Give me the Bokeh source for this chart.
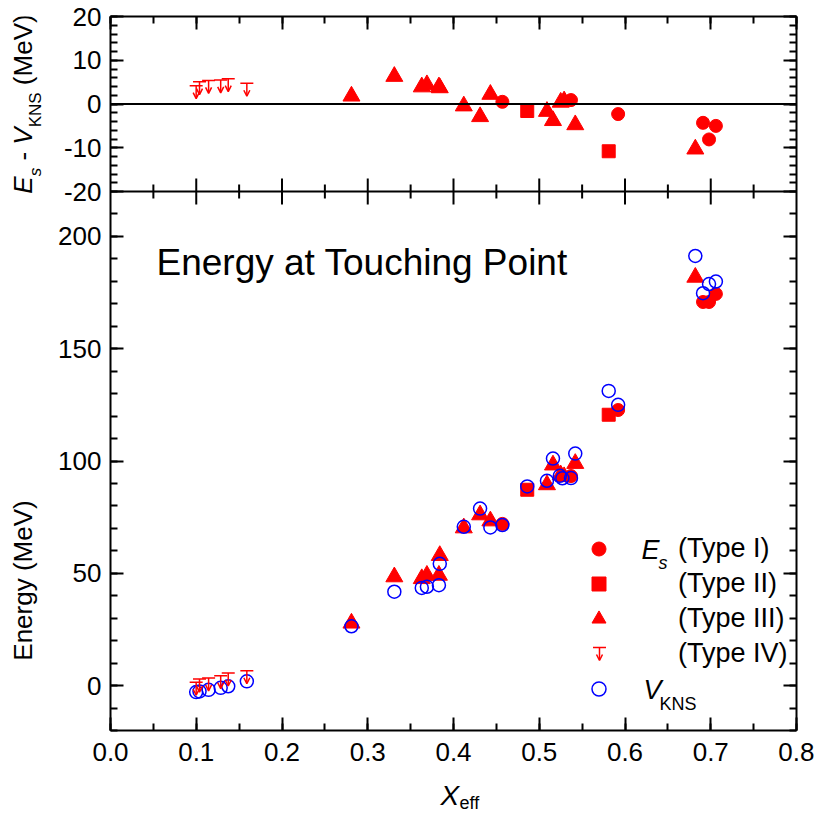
from math import pi
import numpy as np
from bokeh.plotting import figure
from bokeh.models import (ColumnDataSource, Range1d, LinearAxis, FixedTicker, Span, Label,
                          Arrow, TeeHead, OpenHead, Legend, LegendItem, CustomJSTickFormatter)
from bokeh.layouts import column, row
from bokeh.embed import file_html
from bokeh.resources import INLINE

FONT = "Liberation Sans"

# ---------------- data ----------------
# Type I (circles)
t1_x = [0.457, 0.537, 0.592, 0.691, 0.698, 0.706]
t1_es = [72.0, 93.3, 122.7, 170.8, 170.8, 174.4]
t1_diff = [0.5, 0.9, -2.3, -4.3, -8.1, -5.0]
# Type II (squares)
t2_x = [0.486, 0.581]
t2_es = [87.2, 120.6]
t2_diff = [-1.6, -10.8]
# Type III (triangles)
t3_x = [0.281, 0.331, 0.363, 0.369, 0.383, 0.384, 0.412, 0.431, 0.443, 0.509,
        0.516, 0.525, 0.529, 0.542, 0.682]
t3_es = [27.8, 48.4, 47.6, 49.1, 49.1, 57.9, 70.2, 76.0, 73.3, 89.4,
         98.2, 93.8, 93.0, 98.9, 181.8]
t3_diff = [1.8, 6.3, 3.9, 4.4, 3.9, 3.7, -0.45, -2.9, 2.2, -1.7,
           -3.8, 0.4, 0.7, -4.75, -10.3]
# Type IV (upper limits)
t4_x = [0.0999, 0.1038, 0.1144, 0.1285, 0.1373, 0.159]
t4_es = [1.5, 2.9, 3.4, 4.4, 5.6, 6.6]
t4_diff = [4.2, 5.1, 5.4, 5.5, 5.8, 4.75]
# V_KNS (open circles)
v_x = [0.0999, 0.1038, 0.1144, 0.1285, 0.1373, 0.159,
       0.281, 0.331, 0.363, 0.369, 0.383, 0.384, 0.412, 0.431, 0.443, 0.509,
       0.516, 0.524, 0.527, 0.542, 0.682,
       0.486, 0.581,
       0.457, 0.537, 0.592, 0.691, 0.698, 0.706]
v_kns = [-2.9, -2.6, -1.9, -1.0, -0.3, 1.9,
         26.4, 41.8, 43.5, 44.0, 44.7, 54.2, 70.7, 78.8, 70.4, 91.2,
         101.1, 93.4, 92.3, 103.3, 191.3,
         88.7, 131.2,
         71.5, 92.4, 125.0, 174.7, 178.8, 179.9]

x_ticks = [0.0, 0.1, 0.2, 0.3, 0.4, 0.5, 0.6, 0.7, 0.8]
x_tick_labels = ["0.0", "0.1", "0.2", "0.3", "0.4", "0.5", "0.6", "0.7", "0.8"]
top_y_ticks = [-20, -10, 0, 10, 20]
top_y_tick_labels = ["-20", "-10", "0", "10", "20"]
bot_y_ticks = [0, 50, 100, 150, 200]
bot_y_tick_labels = ["0", "50", "100", "150", "200"]

# ---------------- layout constants ----------------
TOTAL_W, TOTAL_H = 813, 813
YLAB_W = 55
FRAME_L = 109            # frame left on the canvas
FW = 686
TOP_PX, BOT_PX = 175, 539
FRAME_TOP = 16
FRAME_BOTTOM = FRAME_TOP + TOP_PX + BOT_PX
MB_BOTTOM = 46
MAIN_H = FRAME_BOTTOM + MB_BOTTOM
MAIN_W = TOTAL_W - YLAB_W
XLAB_H = TOTAL_H - MAIN_H
TICK_FS = "26px"

BOT_LO, BOT_HI = -20, 220
TOP_LO, TOP_HI = -20, 20
main_end = BOT_LO + (BOT_HI - BOT_LO) * (TOP_PX + BOT_PX) / BOT_PX
top_start = TOP_HI - (TOP_HI - TOP_LO) * (TOP_PX + BOT_PX) / TOP_PX


def top_to_main(d):
    return BOT_HI + (d - TOP_LO) * ((BOT_HI - BOT_LO) / BOT_PX) / ((TOP_HI - TOP_LO) / TOP_PX)


x_minor = [round(v, 3) for v in np.arange(0, 0.8001, 0.05)]
left_ticks = bot_y_ticks + [top_to_main(d) for d in top_y_ticks]
left_labels = bot_y_tick_labels + top_y_tick_labels
left_minor = list(range(-20, 221, 10)) + [top_to_main(d) for d in range(-18, 21, 2)]

p = figure(x_range=Range1d(0, 0.8), y_range=Range1d(BOT_LO, main_end),
           frame_width=FW, frame_height=TOP_PX + BOT_PX,
           min_border_left=FRAME_L - YLAB_W, min_border_right=MAIN_W - (FRAME_L - YLAB_W) - FW,
           min_border_top=FRAME_TOP, min_border_bottom=MB_BOTTOM,
           output_backend="svg", toolbar_location=None)
p.extra_y_ranges = {"top": Range1d(top_start, TOP_HI)}
p.grid.visible = False
p.outline_line_color = None


def style_axis(ax, ticks, minor, show_labels=False, standoff=9):
    ax.ticker = FixedTicker(ticks=ticks, minor_ticks=minor)
    ax.axis_line_width = 2
    ax.axis_line_color = "black"
    ax.major_tick_line_width = 2
    ax.minor_tick_line_width = 2
    ax.major_tick_line_color = "black"
    ax.minor_tick_line_color = "black"
    ax.major_tick_in = 13
    ax.major_tick_out = 0
    ax.minor_tick_in = 7
    ax.minor_tick_out = 0
    ax.axis_label = None
    if show_labels:
        ax.major_label_text_font = FONT
        ax.major_label_text_font_size = TICK_FS
        ax.major_label_text_color = "black"
        ax.major_label_standoff = standoff
    else:
        ax.major_label_text_font_size = "0px"
        ax.major_label_text_color = None
        ax.major_label_standoff = 0


ly = p.yaxis[0]
style_axis(ly, left_ticks, left_minor, True, 9)
ly.formatter = CustomJSTickFormatter(args=dict(tv=left_ticks, tl=left_labels), code="""
for (let i = 0; i < tv.length; i++) { if (Math.abs(tv[i] - tick) < 1e-6) return tl[i]; }
return "";
""")
bx = p.xaxis[0]
style_axis(bx, x_ticks, x_minor, True, 12)
bx.major_label_overrides = {t: l for t, l in zip(x_ticks, x_tick_labels)}
ra = LinearAxis(); p.add_layout(ra, "right"); style_axis(ra, left_ticks, left_minor)
aa = LinearAxis(); p.add_layout(aa, "above"); style_axis(aa, x_ticks, x_minor)

# panel boundary with inward ticks on both sides
p.add_layout(Span(location=BOT_HI, dimension="width", line_color="black", line_width=2))
inner_major = x_ticks[1:-1]
inner_minor = [v for v in x_minor if all(abs(v - t) > 1e-6 for t in x_ticks)]
p.scatter(inner_major, [BOT_HI] * len(inner_major), marker="dash", angle=pi / 2, size=26,
          line_color="black", line_width=2)
p.scatter(inner_minor, [BOT_HI] * len(inner_minor), marker="dash", angle=pi / 2, size=14,
          line_color="black", line_width=2)

# ---------------- top panel (E_s - V_KNS) ----------------
p.add_layout(Span(location=0, dimension="width", line_color="black", line_width=2,
                  y_range_name="top"))
p.scatter(t3_x, t3_diff, marker="triangle", size=17, color="red", y_range_name="top")
p.scatter(t2_x, t2_diff, marker="square", size=13, color="red", y_range_name="top")
p.scatter(t1_x, t1_diff, marker="circle", size=13, color="red", y_range_name="top")


def add_limits(xs, ys, L, rng):
    src = ColumnDataSource(dict(x=xs, y0=ys, y1=[y - L for y in ys]))
    p.add_layout(Arrow(x_start="x", y_start="y0", x_end="x", y_end="y1", source=src,
                       line_color="red", line_width=1.5, y_range_name=rng,
                       start=TeeHead(size=13, line_color="red", line_width=1.5),
                       end=OpenHead(size=6, line_color="red", line_width=1.5)))


add_limits(t4_x, t4_diff, 13.0 * (TOP_HI - TOP_LO) / TOP_PX, "top")

# ---------------- bottom panel (energies) ----------------
r3 = p.scatter(t3_x, t3_es, marker="triangle", size=17, color="red")
r2 = p.scatter(t2_x, t2_es, marker="square", size=13, color="red")
r1 = p.scatter(t1_x, t1_es, marker="circle", size=13, color="red")
r4 = p.scatter(t4_x, t4_es, marker="circle", size=1, alpha=0)
add_limits(t4_x, t4_es, 13.0 * (BOT_HI - BOT_LO) / BOT_PX, "default")
rv = p.scatter(v_x, v_kns, marker="circle", size=13, fill_color=None,
               line_color="blue", line_width=1.5)

legend = Legend(items=[LegendItem(label="(Type I)", renderers=[r1]),
                       LegendItem(label="(Type II)", renderers=[r2]),
                       LegendItem(label="(Type III)", renderers=[r3]),
                       LegendItem(label="(Type IV)", renderers=[r4]),
                       LegendItem(label=" ", renderers=[rv])],
                location=(471, 24), glyph_width=35, glyph_height=35, label_height=35,
                label_standoff=62, spacing=0, padding=0, margin=0,
                border_line_color=None, background_fill_alpha=0,
                label_text_font=FONT, label_text_font_size="27px", label_text_color="black")
p.add_layout(legend)
p.add_layout(Arrow(x_start=489, y_start=83, x_end=489, y_end=70,
                   start_units="screen", end_units="screen",
                   line_color="red", line_width=1.5,
                   start=TeeHead(size=13, line_color="red", line_width=1.5),
                   end=OpenHead(size=6, line_color="red", line_width=1.5)))


def lab(fig, x, y, text, size, italic=False, angle=0.0, align="left", baseline="middle"):
    fig.add_layout(Label(x=x, y=y, x_units="screen", y_units="screen", text=text,
                         text_font=FONT, text_font_size=f"{size}px",
                         text_font_style="italic" if italic else "normal",
                         text_color="black", angle=angle, text_align=align,
                         text_baseline=baseline))


# positions given as canvas pixels, converted to frame-relative screen units
def fy(page_y):
    return FRAME_BOTTOM - page_y


def fx(page_x):
    return page_x - FRAME_L


lab(p, fx(640), fy(549), "E", 27, italic=True)
lab(p, fx(657), fy(562), "s", 18, italic=True)
lab(p, fx(642), fy(689), "V", 27, italic=True)
lab(p, fx(658), fy(703), "KNS", 18)
lab(p, fx(155), fy(262), "Energy at Touching Point", 37)

# ---------------- label strips ----------------
def strip(w, h):
    f = figure(width=w, height=h, x_range=Range1d(0, w), y_range=Range1d(0, h),
               min_border=0, x_axis_location=None, y_axis_location=None,
               output_backend="svg", toolbar_location=None)
    f.grid.visible = False
    f.outline_line_color = None
    return f


# the strip's frame is aligned with the main frame (top/bottom)
ylab = strip(YLAB_W, MAIN_H)
main_x, sub_x = 22, 35
pieces = [("E", 26, True, False, 0.667), ("s", 17, True, True, 0.5),
          (None, 26, False, False, 0.278), ("-", 26, False, False, 0.333),
          (None, 26, False, False, 0.278), ("V", 26, True, False, 0.667),
          ("KNS", 17, False, True, 2.056), (None, 26, False, False, 0.278),
          ("(MeV)", 26, False, False, 2.722)]
total = sum(s * w for _, s, _, _, w in pieces)
yy = fy(FRAME_TOP + TOP_PX / 2) - total / 2
for txt, s, it, sub, w in pieces:
    if txt is not None:
        lab(ylab, sub_x if sub else main_x, yy, txt, s, italic=it, angle=pi / 2)
    yy += s * w
lab(ylab, main_x, fy(580), "Energy (MeV)", 26, angle=pi / 2, align="center")

xlab = strip(TOTAL_W, XLAB_H)
lab(xlab, 440, TOTAL_H - 795, "X", 28, italic=True)
lab(xlab, 459, TOTAL_H - 802, "eff", 18)

layout = column(row(ylab, p, spacing=0), xlab, spacing=0)
open("out.html", "w").write(file_html(layout, INLINE))
